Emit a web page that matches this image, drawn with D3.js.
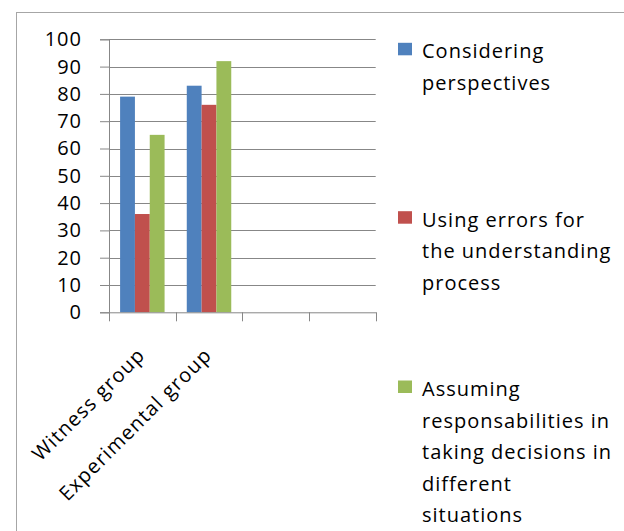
<!DOCTYPE html>
<html>
<head>
<meta charset="utf-8">
<script src="https://cdn.jsdelivr.net/npm/d3@7"></script>
<style>
  html, body { margin: 0; padding: 0; background: #fff; }
  svg { display: block; }
  text { font-family: "Open Sans", sans-serif; fill: #000; }
</style>
</head>
<body>
<svg id="chart" width="624" height="531"></svg>
<script>
// ---- data ----
const categories = ["Witness group", "Experimental group"];
const emptySlots = ["slot3", "slot4"];
const seriesNames = [
  "Considering perspectives",
  "Using errors for the understanding process",
  "Assuming responsabilities in taking decisions in different situations"
];
const seriesColors = ["#4F81BD", "#C0504D", "#9BBB59"];
const considering = [79, 83];
const usingErrors = [36, 76];
const assuming = [65, 92];
const yTicks = [0, 10, 20, 30, 40, 50, 60, 70, 80, 90, 100];

const seriesValues = [considering, usingErrors, assuming];

// ---- layout ----
const svg = d3.select("#chart");
const plot = { left: 109, right: 375.7, top: 39.3, bottom: 312.3 };

// outer frame
svg.append("rect")
  .attr("x", 16.5).attr("y", 12.5)
  .attr("width", 640).attr("height", 600)
  .attr("fill", "none").attr("stroke", "#a6a6a6").attr("stroke-width", 1);

const x = d3.scaleBand()
  .domain(categories.concat(emptySlots))
  .range([plot.left, plot.right])
  .padding(0);

const gapFrac = 22.2 / 66.7;
const xs = d3.scaleBand()
  .domain(seriesNames)
  .range([x.bandwidth() * gapFrac / 2, x.bandwidth() * (1 - gapFrac / 2)])
  .padding(0);

const y = d3.scaleLinear().domain([0, 100]).range([plot.bottom, plot.top]);

// gridlines
svg.append("g")
  .selectAll("line")
  .data(yTicks.filter(d => d > 0))
  .join("line")
  .attr("x1", plot.left).attr("x2", plot.right)
  .attr("y1", d => Math.round(y(d)) + 0.5).attr("y2", d => Math.round(y(d)) + 0.5)
  .attr("stroke", "#878787").attr("stroke-width", 1);

// bars
const groups = svg.append("g")
  .selectAll("g")
  .data(categories)
  .join("g")
  .attr("transform", d => `translate(${x(d)},0)`);

groups.selectAll("rect")
  .data((c, ci) => seriesNames.map((s, si) => ({ s, si, v: seriesValues[si][ci] })))
  .join("rect")
  .attr("x", d => xs(d.s))
  .attr("width", xs.bandwidth())
  .attr("y", d => y(d.v))
  .attr("height", d => y(0) - y(d.v))
  .attr("fill", d => seriesColors[d.si]);

// y axis
const yAxis = svg.append("g")
  .attr("transform", `translate(${plot.left},0)`)
  .call(d3.axisLeft(y).tickValues(yTicks).tickSize(9).tickPadding(18).tickFormat(d3.format("d")));
yAxis.select(".domain").attr("stroke", "#878787");
yAxis.selectAll(".tick line").attr("stroke", "#878787");
yAxis.selectAll(".tick text")
  .attr("font-size", 20).attr("letter-spacing", 1)
  .style("font-family", "Open Sans, sans-serif").attr("fill", "#000");

// x axis
const xAxis = svg.append("g")
  .attr("transform", `translate(0,${plot.bottom})`)
  .call(d3.axisBottom(x).tickSize(0).tickFormat(""));
xAxis.select(".domain").attr("stroke", "#878787");
xAxis.selectAll(".tick").remove();
const boundaries = x.domain().map(d => x(d)).concat([plot.right]);
xAxis.selectAll("line.b")
  .data(boundaries)
  .join("line")
  .attr("class", "b")
  .attr("x1", d => Math.round(d) + 0.5).attr("x2", d => Math.round(d) + 0.5)
  .attr("y1", 0).attr("y2", 9)
  .attr("stroke", "#878787");

// category labels, rotated
svg.append("g")
  .selectAll("text")
  .data(categories)
  .join("text")
  .attr("transform", d => `translate(${x(d) + x.bandwidth() / 2 + 4},${plot.bottom + 44}) rotate(-45)`)
  .attr("text-anchor", "end")
  .attr("font-size", 20)
  .attr("letter-spacing", 1.2)
  .text(d => d);

// legend
const legendX = 398, textX = 422, maxW = 196, lineH = 31.5;
const firstBaselines = [58.3, 226.7, 396];
const legend = svg.append("g");
seriesNames.forEach((name, i) => {
  const b = firstBaselines[i];
  legend.append("rect")
    .attr("x", legendX).attr("y", b - 15.5)
    .attr("width", 14).attr("height", 12.5)
    .attr("fill", seriesColors[i]);
  const t = legend.append("text")
    .attr("x", textX).attr("y", b)
    .attr("font-size", 20).attr("letter-spacing", 1);
  const words = name.split(" ");
  let line = [];
  let tspan = t.append("tspan").attr("x", textX).attr("y", b);
  let ln = 0;
  words.forEach(w => {
    line.push(w);
    tspan.text(line.join(" "));
    if (tspan.node().getComputedTextLength() > maxW && line.length > 1) {
      line.pop();
      tspan.text(line.join(" "));
      line = [w];
      ln++;
      tspan = t.append("tspan").attr("x", textX).attr("y", b + ln * lineH).text(w);
    }
  });
});
</script>
</body>
</html>
